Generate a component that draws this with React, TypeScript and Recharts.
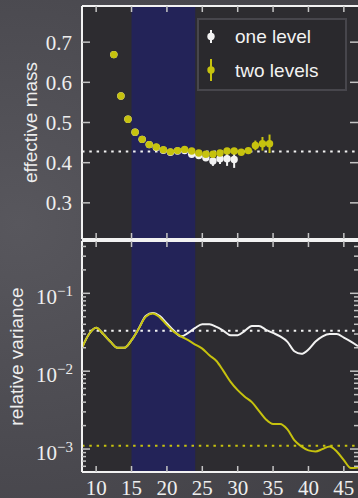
import React from 'react';
import { ComposedChart, Scatter, Line, XAxis, YAxis, ErrorBar, ReferenceArea, ReferenceLine, Legend } from 'recharts';

// ---- data ----
const effT2 = [12.5, 13.5, 14.5, 15.5, 16.5, 17.5, 18.5, 19.5, 20.5, 21.5, 22.5, 23.5, 24.5, 25.5, 26.5, 27.5, 28.5, 29.5, 30.5, 31.5, 32.5, 33.5, 34.5];
const effM2 = [0.669, 0.566, 0.508, 0.476, 0.458, 0.445, 0.439, 0.432, 0.427, 0.430, 0.433, 0.429, 0.424, 0.421, 0.421, 0.424, 0.429, 0.429, 0.426, 0.430, 0.443, 0.447, 0.447];
const effE2 = [0.003, 0.003, 0.003, 0.003, 0.003, 0.003, 0.003, 0.003, 0.003, 0.003, 0.003, 0.003, 0.003, 0.004, 0.004, 0.004, 0.005, 0.005, 0.006, 0.007, 0.012, 0.017, 0.023];

const effT1 = [12.5, 13.5, 14.5, 15.5, 16.5, 17.5, 18.5, 19.5, 20.5, 21.5, 22.5, 23.5, 24.5, 25.5, 26.5, 27.5, 28.5, 29.5];
const effM1 = [0.669, 0.566, 0.508, 0.476, 0.458, 0.445, 0.438, 0.431, 0.426, 0.429, 0.430, 0.421, 0.418, 0.4125, 0.404, 0.410, 0.410, 0.408];
const effE1 = [0.003, 0.003, 0.003, 0.003, 0.003, 0.003, 0.003, 0.003, 0.003, 0.003, 0.003, 0.004, 0.006, 0.009, 0.012, 0.013, 0.018, 0.021];

const varT = [8, 9, 10, 11, 12, 13, 14, 15, 16, 17, 18, 19, 20, 21, 22, 23, 24, 25, 26, 27, 28, 29, 30, 31, 32, 33, 34, 35, 36, 37, 38, 39, 40, 41, 42, 43, 44, 45, 46, 47];
const varOne = [0.020, 0.030, 0.036, 0.030, 0.024, 0.020, 0.020, 0.025, 0.035, 0.051, 0.056, 0.051, 0.041, 0.033, 0.028, 0.031, 0.036, 0.040, 0.040, 0.037, 0.033, 0.029, 0.029, 0.033, 0.038, 0.038, 0.034, 0.031, 0.028, 0.024, 0.018, 0.0167, 0.019, 0.024, 0.028, 0.030, 0.030, 0.027, 0.024, 0.021];
const varTwo = [0.020, 0.030, 0.036, 0.030, 0.024, 0.020, 0.020, 0.025, 0.035, 0.050, 0.055, 0.049, 0.039, 0.032, 0.028, 0.025, 0.022, 0.0195, 0.016, 0.0135, 0.010, 0.0073, 0.0057, 0.0047, 0.0040, 0.0031, 0.0024, 0.0021, 0.0021, 0.0018, 0.0013, 0.00108, 0.00096, 0.00093, 0.0010, 0.00108, 0.00093, 0.00072, 0.00057, 0.00058];

const seriesNames = ['one level', 'two levels'];
const plateauMass = 0.428;
const varOneLevel = 0.033;
const varTwoLevel = 0.0011;
const fitWindow = [15, 24];

const xDomain = [8, 47];
const xTicks = [10, 15, 20, 25, 30, 35, 40, 45];
const massDomain = [0.21, 0.79];
const massTicks = [0.3, 0.4, 0.5, 0.6, 0.7];
const varDomain = [5.07e-4, 0.47];
const varTicks = [6e-4, 7e-4, 8e-4, 9e-4, 1e-3, 2e-3, 3e-3, 4e-3, 5e-3, 6e-3, 7e-3, 8e-3, 9e-3, 1e-2, 2e-2, 3e-2, 4e-2, 5e-2, 6e-2, 7e-2, 8e-2, 9e-2, 0.1, 0.2, 0.3, 0.4];

// ---- styles ----
const WHITE = '#f2f2f2';
const YELLOW = '#c6c20e';
const BLUE = '#232358';
const PLOT_BG = '#2d2c30';
const TICK = '#c4c4c4';
const LABEL = '#eeeeee';
const serif = '"Liberation Serif", "Times New Roman", serif';
const sans = '"Liberation Sans", Arial, sans-serif';

const oneData = effT1.map((t, i) => ({ x: t, y: effM1[i], err: effE1[i] }));
const twoData = effT2.map((t, i) => ({ x: t, y: effM2[i], err: effE2[i] }));
const varData = varT.map((t, i) => ({ x: t, one: varOne[i], two: varTwo[i] }));

const isMajor = (v: number) => Math.abs(Math.log10(v) - Math.round(Math.log10(v))) < 1e-6;

const MassLeftTick = (props: any) => {
  const { x, y, payload } = props;
  return (
    <g>
      <line x1={x} x2={x + 8} y1={y} y2={y} stroke={TICK} strokeWidth={1.5} />
      <text x={x - 10} y={y + 7.5} textAnchor="end" fill={LABEL} fontFamily={serif} fontSize={21}>
        {Number(payload.value).toFixed(1)}
      </text>
    </g>
  );
};

const MassRightTick = (props: any) => {
  const { x, y } = props;
  return <line x1={x - 8} x2={x} y1={y} y2={y} stroke={TICK} strokeWidth={1.5} />;
};

const VarLeftTick = (props: any) => {
  const { x, y, payload } = props;
  const v = Number(payload.value);
  const major = isMajor(v);
  const exp = Math.round(Math.log10(v));
  return (
    <g>
      <line x1={x} x2={x + (major ? 8 : 4)} y1={y} y2={y} stroke={TICK} strokeWidth={1.5} />
      {major && (
        <text x={x - 9} y={y + 11} textAnchor="end" fill={LABEL} fontFamily={serif} fontSize={21}>
          <tspan>10</tspan>
          <tspan dy={-8.5} fontSize={15}>{'\u2212' + String(-exp)}</tspan>
        </text>
      )}
    </g>
  );
};

const VarRightTick = (props: any) => {
  const { x, y, payload } = props;
  const major = isMajor(Number(payload.value));
  return <line x1={x - (major ? 8 : 4)} x2={x} y1={y} y2={y} stroke={TICK} strokeWidth={1.5} />;
};

// bottom x ticks: inward tick line + optional label below
const makeXBottomTick = (withLabel: boolean) => (props: any) => {
  const { x, y, payload } = props;
  return (
    <g>
      <line x1={x} x2={x} y1={y} y2={y - 6} stroke={TICK} strokeWidth={1.5} />
      {withLabel && (
        <text x={x} y={y + 22.5} textAnchor="middle" fill={LABEL} fontFamily={serif} fontSize={21}>
          {payload.value}
        </text>
      )}
    </g>
  );
};
const XTopTick = (props: any) => {
  const { x, y } = props;
  return <line x1={x} x2={x} y1={y} y2={y + 6} stroke={TICK} strokeWidth={1.5} />;
};

const titleLabel = (text: string, baseX: number) => ({
  content: (p: any) => {
    const vb = p.viewBox || { x: 0, y: 0, width: 0, height: 0 };
    const cy = vb.y + vb.height / 2;
    return (
      <text x={baseX} y={cy} transform={`rotate(-90 ${baseX} ${cy})`} textAnchor="middle" fill={LABEL} fontFamily={sans} fontSize={19}>
        {text}
      </text>
    );
  },
});

const DotShape = (color: string) => (props: any) => {
  const { cx, cy } = props;
  if (cx == null || cy == null) return <g />;
  return <circle cx={cx} cy={cy} r={3.7} fill={color} />;
};

const LegendBox = () => (
  <svg width={150} height={73} style={{ display: 'block' }}>
    <rect x={1} y={1} width={148} height={71} fill="#2a292d" stroke="#47464c" strokeWidth={2} />
    <line x1={14} x2={14} y1={12} y2={25} stroke={WHITE} strokeWidth={2} />
    <circle cx={14} cy={18.5} r={3.7} fill={WHITE} />
    <text x={38} y={25} fill={WHITE} fontFamily={sans} fontSize={19}>{seriesNames[0]}</text>
    <line x1={14} x2={14} y1={41} y2={63} stroke={YELLOW} strokeWidth={2} />
    <circle cx={14} cy={52} r={3.7} fill={YELLOW} />
    <text x={38} y={58.5} fill={WHITE} fontFamily={sans} fontSize={19}>{seriesNames[1]}</text>
  </svg>
);

const frameLine = { stroke: WHITE, strokeWidth: 2 };

export default function App() {
  return (
    <div
      style={{
        position: 'absolute',
        left: 0,
        top: 0,
        width: 358,
        height: 498,
        overflow: 'hidden',
        background: 'radial-gradient(ellipse 130% 90% at 5% 45%, #58575d 0%, #4a494f 55%, #3f3e43 100%)',
      }}
    >
      <div style={{ position: 'absolute', left: 0, top: 0 }}>
        <ComposedChart width={358} height={240} data={twoData} margin={{ top: 6, right: 0, bottom: 0, left: 0 }}>
          <XAxis xAxisId="main" dataKey="x" type="number" domain={xDomain} allowDataOverflow ticks={xTicks} interval={0}
            orientation="bottom" height={1} tickSize={0} tickMargin={0} tickLine={false} axisLine={frameLine} tick={makeXBottomTick(false)} />
          <XAxis xAxisId="top" dataKey="x" type="number" domain={xDomain} allowDataOverflow ticks={xTicks} interval={0}
            orientation="top" mirror tickSize={0} tickMargin={0} tickLine={false} axisLine={frameLine} tick={XTopTick} />
          <YAxis yAxisId="main" dataKey="y" type="number" domain={massDomain} allowDataOverflow ticks={massTicks} interval={0}
            width={82} tickSize={0} tickMargin={0} tickLine={false} axisLine={frameLine} tick={MassLeftTick}
            label={titleLabel('effective mass', 37)} />
          <YAxis yAxisId="r" dataKey="y" type="number" domain={massDomain} allowDataOverflow ticks={massTicks} interval={0}
            orientation="right" mirror tickSize={0} tickMargin={0} tickLine={false} axisLine={false} tick={MassRightTick} />
          <ReferenceArea xAxisId="main" yAxisId="main" x1={xDomain[0]} x2={xDomain[1]} y1={massDomain[0]} y2={massDomain[1]} fill={PLOT_BG} fillOpacity={1} stroke="none" />
          <ReferenceArea xAxisId="main" yAxisId="main" x1={fitWindow[0]} x2={fitWindow[1]} y1={massDomain[0]} y2={massDomain[1]} fill={BLUE} fillOpacity={1} stroke="none" />
          <ReferenceLine xAxisId="main" yAxisId="main" y={plateauMass} stroke={WHITE} strokeWidth={2} strokeDasharray="2.5 4.8" />
          <Scatter name={seriesNames[0]} data={oneData} xAxisId="main" yAxisId="main" fill={WHITE} shape={DotShape(WHITE)} isAnimationActive={false}>
            <ErrorBar dataKey="err" direction="y" width={0} stroke={WHITE} strokeWidth={2} isAnimationActive={false} />
          </Scatter>
          <Scatter name={seriesNames[1]} data={twoData} xAxisId="main" yAxisId="main" fill={YELLOW} shape={DotShape(YELLOW)} isAnimationActive={false}>
            <ErrorBar dataKey="err" direction="y" width={0} stroke={YELLOW} strokeWidth={2} isAnimationActive={false} />
          </Scatter>
          <Legend layout="vertical" align="center" verticalAlign="middle" content={LegendBox}
            wrapperStyle={{ left: 197, top: 18, width: 150, height: 73 }} />
        </ComposedChart>
      </div>
      <div style={{ position: 'absolute', left: 0, top: 240 }}>
        <ComposedChart width={358} height={258} data={varData} margin={{ top: 1, right: 0, bottom: 0, left: 0 }}>
          <XAxis xAxisId="main" dataKey="x" type="number" domain={xDomain} allowDataOverflow ticks={xTicks} interval={0}
            orientation="bottom" height={26} tickSize={0} tickMargin={0} tickLine={false} axisLine={frameLine} tick={makeXBottomTick(true)} />
          <XAxis xAxisId="top" dataKey="x" type="number" domain={xDomain} allowDataOverflow ticks={xTicks} interval={0}
            orientation="top" mirror tickSize={0} tickMargin={0} tickLine={false} axisLine={frameLine} tick={XTopTick} />
          <YAxis yAxisId="main" dataKey="two" type="number" scale="log" domain={varDomain} allowDataOverflow ticks={varTicks} interval={0}
            width={82} tickSize={0} tickMargin={0} tickLine={false} axisLine={frameLine} tick={VarLeftTick}
            label={titleLabel('relative variance', 23)} />
          <YAxis yAxisId="r" dataKey="one" type="number" scale="log" domain={varDomain} allowDataOverflow ticks={varTicks} interval={0}
            orientation="right" mirror tickSize={0} tickMargin={0} tickLine={false} axisLine={false} tick={VarRightTick} />
          <ReferenceArea xAxisId="main" yAxisId="main" x1={xDomain[0]} x2={xDomain[1]} y1={varDomain[0]} y2={varDomain[1]} fill={PLOT_BG} fillOpacity={1} stroke="none" />
          <ReferenceArea xAxisId="main" yAxisId="main" x1={fitWindow[0]} x2={fitWindow[1]} y1={varDomain[0]} y2={varDomain[1]} fill={BLUE} fillOpacity={1} stroke="none" />
          <ReferenceLine xAxisId="main" yAxisId="main" y={varOneLevel} stroke={WHITE} strokeWidth={2} strokeDasharray="2.5 4.8" />
          <ReferenceLine xAxisId="main" yAxisId="main" y={varTwoLevel} stroke={YELLOW} strokeWidth={2} strokeDasharray="2.5 4.8" />
          <Line xAxisId="main" yAxisId="main" dataKey="one" type="monotone" stroke={WHITE} strokeWidth={2} dot={false} isAnimationActive={false} />
          <Line xAxisId="main" yAxisId="main" dataKey="two" type="monotone" stroke={YELLOW} strokeWidth={2} dot={false} isAnimationActive={false} />
        </ComposedChart>
      </div>
    </div>
  );
}
